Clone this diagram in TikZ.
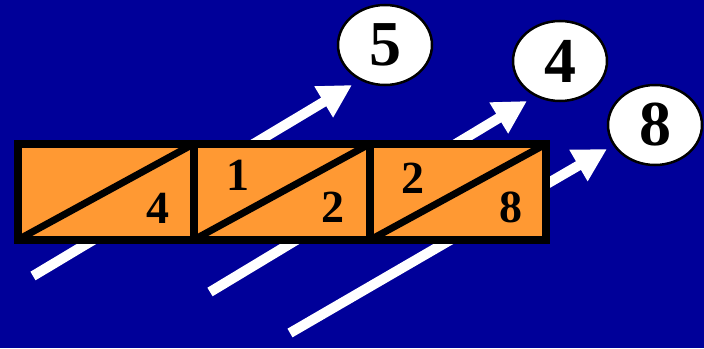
\documentclass[tikz,border=0pt]{standalone}
\usepackage{fontspec}
\setmainfont{Liberation Serif}
\usetikzlibrary{arrows.meta,shapes.geometric}
\definecolor{latticeBlue}{HTML}{000099}
\definecolor{latticeOrange}{HTML}{FF9933}
\tikzset{
  sweep/.style={-{Triangle[length=33pt,width=34pt]}, draw=white, line width=10pt},
  cell/.style={draw=black, line width=8pt, fill=latticeOrange,
               minimum width=176pt, minimum height=96pt, inner sep=0pt, outer sep=0pt},
  diag/.style={draw=black, line width=7pt},
  digit/.style={font=\fontsize{46}{46}\selectfont\bfseries, inner sep=0pt},
  result/.style={ellipse, draw=black, line width=2.5pt, fill=white,
                 minimum width=94pt, minimum height=80pt, inner sep=0pt,
                 font=\fontsize{64}{64}\selectfont\bfseries}
}

\begin{document}
\begin{tikzpicture}[x=1pt,y=-1pt]

% background
\fill[latticeBlue] (0,0) rectangle (704,348);
\useasboundingbox (0,0) rectangle (704,348);

% ------------------------------------------------------------
% result ovals
% ------------------------------------------------------------
\node[result] (res5) at (385,45) {5};
\node[result] (res4) at (560,61) {4};
\node[result] (res8) at (655,125) {8};

% ------------------------------------------------------------
% diagonal sweeps (behind the lattice)
% ------------------------------------------------------------
\coordinate (sweepA) at (33,276);
\coordinate (tipA) at (352,85);
\coordinate (sweepB) at (210,292);
\coordinate (tipB) at (527,101);
\coordinate (sweepC) at (290,333);
\coordinate (tipC) at (607,149);

\draw[sweep] (sweepA) -- (tipA);
\draw[sweep] (sweepB) -- (tipB);
\draw[sweep] (sweepC) -- (tipC);

% ------------------------------------------------------------
% lattice cells
% ------------------------------------------------------------
\node[cell] (cellA) at (105.5,192) {};
\node[cell] (cellB) at (281.5,192) {};
\node[cell] (cellC) at (458,192) {};

\draw[diag] (cellA.south west) -- (cellA.north east);
\draw[diag] (cellB.south west) -- (cellB.north east);
\draw[diag] (cellC.south west) -- (cellC.north east);

% partial products
\node[digit] (unitA) at (158,208) {4};
\node[digit] (tensB) at (238,175) {1};
\node[digit] (unitB) at (333,207) {2};
\node[digit] (tensC) at (413,178) {2};
\node[digit] (unitC) at (511,207) {8};

\end{tikzpicture}
\end{document}
